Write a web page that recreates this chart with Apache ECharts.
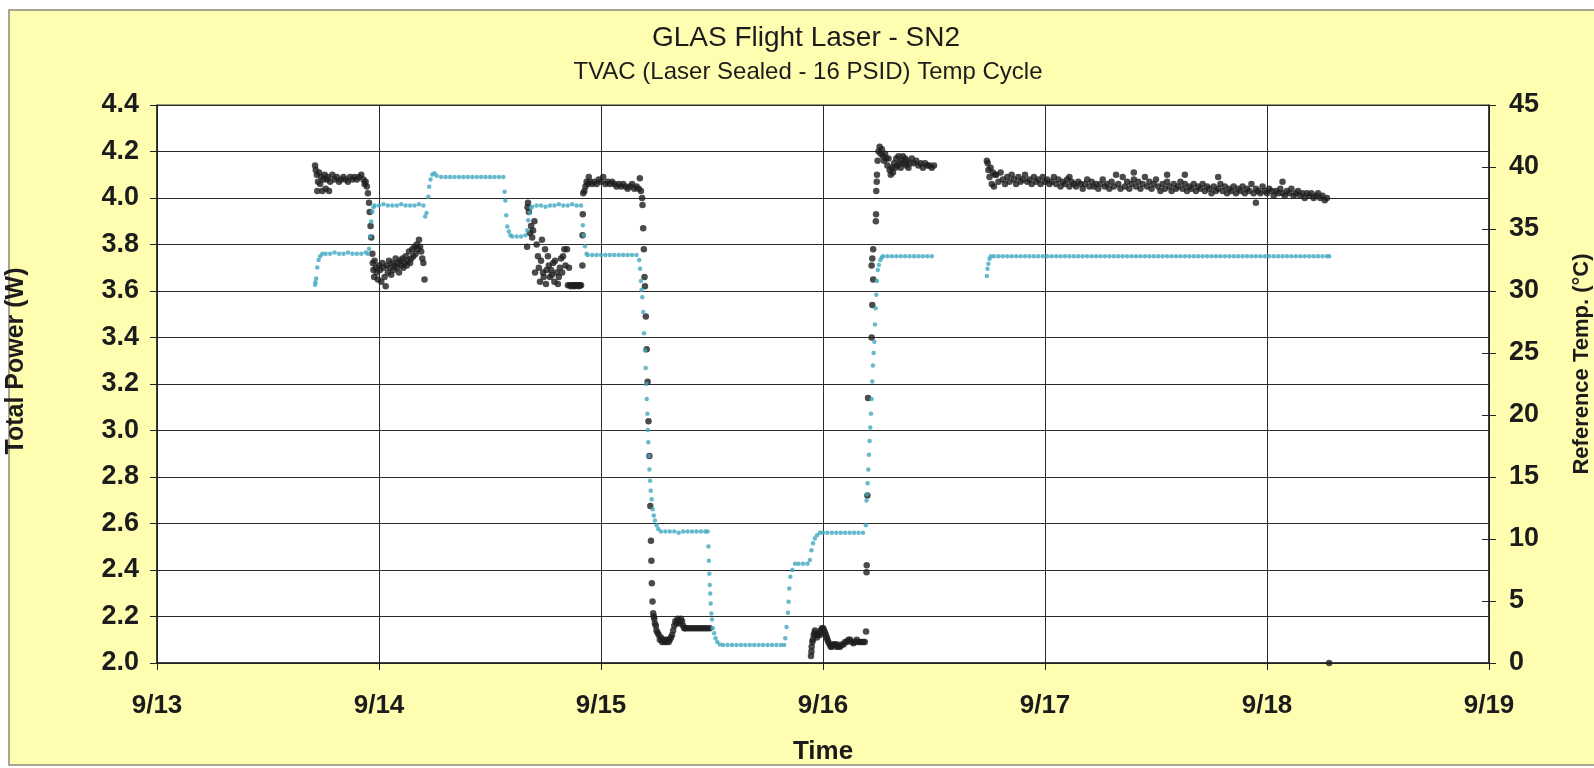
<!DOCTYPE html>
<html>
<head>
<meta charset="utf-8">
<script src="https://cdn.jsdelivr.net/npm/echarts@6/dist/echarts.min.js"></script>
<style>
html,body{margin:0;padding:0;background:#ffffff;}
#chart{width:1594px;height:768px;}
</style>
</head>
<body>
<div id="chart"></div>
<script>
// ---------- DATA ----------
const dateLabels = ['9/13','9/14','9/15','9/16','9/17','9/18','9/19'];
const powerTicks = ['2.0','2.2','2.4','2.6','2.8','3.0','3.2','3.4','3.6','3.8','4.0','4.2','4.4'];
const tempTicks = ['0','5','10','15','20','25','30','35','40','45'];

// Total Power (W) - [day of September, watts]
const power1 = [[13.712,4.14],[13.715,4.12],[13.72,4.10],[13.722,4.03],[13.725,4.07],[13.73,4.11],[13.735,4.06],[13.74,4.09],[13.745,4.03],[13.75,4.08],[13.755,4.10],[13.76,4.04],[13.765,4.08],[13.77,4.09],[13.775,4.03],[13.78,4.07],[13.79,4.10],[13.80,4.08],[13.81,4.09],[13.82,4.07],[13.83,4.08],[13.84,4.09],[13.85,4.08],[13.86,4.07],[13.87,4.09],[13.88,4.08],[13.89,4.09],[13.90,4.08],[13.91,4.09],[13.92,4.10],[13.93,4.08],[13.935,4.06],[13.94,4.07],[13.945,4.05],[13.95,4.02],[13.955,3.98],[13.958,3.94],[13.962,3.88],[13.965,3.83]];
const power2 = [[13.97,3.76],[13.972,3.72],[13.975,3.69],[13.978,3.66],[13.98,3.73],[13.985,3.70],[13.99,3.68],[13.995,3.65],[14.0,3.71],[14.005,3.69],[14.01,3.64],[14.015,3.72],[14.02,3.70],[14.025,3.66],[14.03,3.62],[14.035,3.71],[14.04,3.68],[14.045,3.73],[14.05,3.70],[14.055,3.67],[14.06,3.72],[14.065,3.69],[14.07,3.71],[14.075,3.74],[14.08,3.70],[14.085,3.72],[14.09,3.68],[14.095,3.73],[14.10,3.71],[14.105,3.74],[14.11,3.70],[14.115,3.72],[14.12,3.75],[14.125,3.71],[14.13,3.73],[14.135,3.77],[14.14,3.72],[14.145,3.74],[14.15,3.78],[14.155,3.75],[14.16,3.79],[14.165,3.76],[14.17,3.80],[14.175,3.78],[14.18,3.82],[14.185,3.79],[14.19,3.77],[14.195,3.74],[14.2,3.72],[14.205,3.65]];
const power3 = [[14.667,3.79],[14.669,3.96],[14.671,3.98],[14.675,3.94],[14.68,3.85],[14.685,3.88],[14.69,3.83],[14.694,3.86],[14.70,3.90],[14.703,3.68],[14.71,3.80],[14.716,3.75],[14.72,3.70],[14.725,3.64],[14.73,3.73],[14.734,3.82],[14.739,3.68],[14.742,3.66],[14.748,3.78],[14.752,3.63],[14.755,3.69],[14.761,3.75],[14.765,3.71],[14.77,3.66],[14.775,3.69],[14.779,3.67],[14.785,3.72],[14.79,3.64],[14.793,3.73],[14.80,3.68],[14.806,3.63],[14.81,3.66],[14.815,3.70],[14.82,3.74],[14.825,3.68],[14.829,3.75],[14.835,3.78],[14.84,3.71],[14.847,3.78],[14.851,3.625],[14.856,3.70],[14.86,3.625],[14.865,3.62],[14.87,3.625],[14.875,3.625],[14.88,3.62],[14.885,3.625],[14.89,3.625],[14.895,3.625],[14.90,3.62],[14.905,3.625],[14.91,3.625],[14.916,3.71],[14.917,3.84],[14.918,3.93]];
const power4 = [[14.92,4.02],[14.925,4.03],[14.93,4.05],[14.935,4.07],[14.94,4.06],[14.945,4.09],[14.95,4.07],[14.96,4.06],[14.97,4.07],[14.98,4.06],[14.99,4.08],[15.0,4.07],[15.01,4.09],[15.02,4.06],[15.03,4.07],[15.04,4.06],[15.05,4.07],[15.06,4.06],[15.07,4.05],[15.08,4.06],[15.09,4.05],[15.10,4.06],[15.11,4.05],[15.12,4.04],[15.13,4.05],[15.14,4.06],[15.15,4.04],[15.16,4.05],[15.17,4.04],[15.175,4.085],[15.18,4.03],
  [15.185,4.00],[15.187,3.97],[15.19,3.87],[15.193,3.78],[15.196,3.66],[15.198,3.62],[15.202,3.49],[15.206,3.35],[15.21,3.21],[15.214,3.04],[15.218,2.89],[15.222,2.675],[15.225,2.526],[15.227,2.44],[15.229,2.343],[15.232,2.265],[15.235,2.214]];
const power5 = [[15.238,2.20],[15.24,2.19],[15.243,2.17],[15.247,2.16],[15.25,2.14],[15.255,2.13],[15.26,2.12],[15.265,2.10],[15.27,2.11],[15.275,2.09],[15.28,2.10],[15.285,2.09],[15.29,2.10],[15.295,2.09],[15.30,2.10],[15.305,2.09],[15.31,2.10],[15.315,2.11],[15.32,2.12],[15.325,2.14],[15.33,2.16],[15.335,2.18],[15.34,2.17],[15.345,2.19],[15.35,2.18],[15.355,2.17],[15.36,2.19],[15.365,2.18],[15.37,2.16],[15.375,2.15],[15.38,2.15],[15.39,2.15],[15.40,2.15],[15.41,2.15],[15.42,2.15],[15.43,2.15],[15.44,2.15],[15.45,2.15],[15.46,2.15],[15.47,2.15],[15.48,2.15],[15.49,2.15]];
const power6 = [[15.946,2.03],[15.948,2.05],[15.949,2.07],[15.952,2.09],[15.954,2.10],[15.958,2.12],[15.962,2.13],[15.964,2.14],[15.968,2.12],[15.972,2.11],[15.978,2.12],[15.982,2.13],[15.986,2.12],[15.99,2.14],[15.995,2.15],[16.001,2.15],[16.005,2.14],[16.009,2.13],[16.013,2.12],[16.017,2.11],[16.02,2.10],[16.024,2.09],[16.03,2.08],[16.035,2.07],[16.039,2.07],[16.045,2.08],[16.05,2.08],[16.054,2.08],[16.06,2.07],[16.065,2.08],[16.07,2.07],[16.077,2.07],[16.085,2.08],[16.092,2.08],[16.1,2.09],[16.107,2.09],[16.115,2.10],[16.122,2.10],[16.13,2.09],[16.137,2.085],[16.145,2.09],[16.152,2.10],[16.16,2.09],[16.167,2.09],[16.175,2.09],[16.182,2.09],[16.188,2.09],[16.194,2.135],
  [16.196,2.39],[16.197,2.42],[16.200,2.72],[16.203,3.14],[16.219,3.40],[16.222,3.54],[16.226,3.65],[16.219,3.71],[16.222,3.74],[16.226,3.78],[16.238,3.90],[16.239,3.93],[16.24,4.03],[16.242,4.07],[16.243,4.10],[16.246,4.16]];
const power7 = [[16.25,4.20],[16.255,4.22],[16.26,4.19],[16.265,4.21],[16.27,4.18],[16.275,4.16],[16.28,4.19],[16.285,4.17],[16.29,4.14],[16.295,4.17],[16.30,4.12],[16.305,4.10],[16.31,4.13],[16.315,4.11],[16.32,4.15],[16.325,4.13],[16.33,4.17],[16.335,4.14],[16.34,4.18],[16.345,4.15],[16.35,4.13],[16.355,4.16],[16.36,4.18],[16.365,4.15],[16.37,4.17],[16.375,4.14],[16.38,4.16],[16.385,4.13],[16.39,4.15],[16.40,4.17],[16.41,4.15],[16.42,4.16],[16.43,4.14],[16.44,4.15],[16.45,4.13],[16.46,4.15],[16.47,4.14],[16.48,4.14],[16.49,4.13],[16.50,4.14]];
const power8 = [[16.738,4.16],[16.742,4.15],[16.745,4.12],[16.75,4.09],[16.755,4.13],[16.76,4.06],[16.765,4.11],[16.77,4.05],[16.775,4.10],[16.78,4.10],[16.79,4.07],[16.80,4.11],[16.81,4.08],[16.82,4.06],[16.83,4.09],[16.84,4.07],[16.85,4.10],[16.86,4.08],[16.87,4.06],[16.88,4.09],[16.89,4.07],[16.90,4.08],[16.91,4.10],[16.92,4.07],[16.93,4.08],[16.94,4.06],[16.95,4.09],[16.96,4.07],[16.97,4.08],[16.98,4.06],[16.99,4.09],
  [17.00,4.07],[17.01,4.08],[17.02,4.06],[17.03,4.07],[17.04,4.09],[17.05,4.06],[17.06,4.08],[17.07,4.05],[17.08,4.07],[17.09,4.06],[17.10,4.08],[17.11,4.05],[17.12,4.07],[17.13,4.06],[17.14,4.05],[17.15,4.07],[17.16,4.06],[17.17,4.04],[17.18,4.06],[17.19,4.08],[17.20,4.05],[17.21,4.07],[17.22,4.05],[17.23,4.06],[17.24,4.04],[17.25,4.06],[17.26,4.08],[17.27,4.05],[17.28,4.06],[17.29,4.04],[17.30,4.07],[17.31,4.05],[17.32,4.10],[17.33,4.06],[17.34,4.04],[17.35,4.09],[17.36,4.05],[17.37,4.07],[17.38,4.04],[17.39,4.06],[17.40,4.08],[17.41,4.05],[17.42,4.07],[17.43,4.04],[17.44,4.06],[17.45,4.09],[17.46,4.05],[17.47,4.07],[17.48,4.04],[17.49,4.06],
  [17.50,4.08],[17.51,4.05],[17.52,4.03],[17.53,4.06],[17.54,4.04],[17.55,4.07],[17.56,4.05],[17.57,4.03],[17.58,4.06],[17.59,4.04],[17.60,4.05],[17.61,4.07],[17.62,4.04],[17.63,4.06],[17.64,4.03],[17.65,4.05],[17.66,4.04],[17.67,4.06],[17.68,4.03],[17.69,4.05],[17.70,4.04],[17.71,4.06],[17.72,4.03],[17.73,4.05],[17.74,4.04],[17.75,4.02],[17.76,4.05],[17.77,4.03],[17.78,4.04],[17.79,4.06],[17.80,4.03],[17.81,4.05],[17.82,4.02],[17.83,4.04],[17.84,4.03],[17.85,4.05],[17.86,4.02],[17.87,4.04],[17.88,4.03],[17.89,4.05],[17.90,4.02],[17.91,4.04],[17.92,4.03],[17.93,4.06],[17.94,4.02],[17.95,4.04],[17.96,4.03],[17.97,4.02],[17.98,4.05],[17.99,4.03],
  [18.00,4.02],[18.01,4.04],[18.02,4.03],[18.03,4.01],[18.04,4.03],[18.05,4.02],[18.06,4.04],[18.07,4.02],[18.08,4.01],[18.09,4.03],[18.10,4.02],[18.11,4.04],[18.12,4.01],[18.13,4.02],[18.14,4.03],[18.15,4.01],[18.16,4.02],[18.17,4.00],[18.18,4.02],[18.19,4.01],[18.20,4.02],[18.21,4.00],[18.22,4.01],[18.23,4.02],[18.24,4.00],[18.25,4.01],[18.26,3.99],[18.27,4.00],
  [17.11,4.09],[17.40,4.11],[17.55,4.10],[17.63,4.10],[17.78,4.09],[17.95,3.98],[18.07,4.07],[18.28,2.00]];

// Reference Temp (°C) - [day of September, degrees C]
const temp1 = [[13.712,30.5],[13.714,30.7],[13.717,31.0],[13.722,31.9],[13.728,32.5],[13.735,32.8],[13.745,33.0],[13.76,33.0],[13.78,33.0],[13.80,33.1],[13.82,33.0],[13.84,33.0],[13.86,33.1],[13.88,33.0],[13.90,33.0],[13.92,33.0],[13.94,33.1],[13.95,33.0],
  [13.955,33.4],[13.96,34.4],[13.965,35.6],[13.97,36.4],[13.975,36.75],[13.98,36.9],[14.00,36.9],[14.02,37.0],[14.04,36.9],[14.06,36.9],[14.08,36.9],[14.10,37.0],[14.12,36.9],[14.14,36.9],[14.16,36.9],[14.18,37.0],[14.20,36.9],
  [14.208,36.0],[14.214,36.3],[14.222,37.6],[14.226,38.4],[14.232,39.0],[14.24,39.4],[14.25,39.5],[14.26,39.3],[14.28,39.2],[14.30,39.2],[14.32,39.2],[14.34,39.2],[14.36,39.2],[14.38,39.2],[14.40,39.2],[14.42,39.2],[14.44,39.2],[14.46,39.2],[14.48,39.2],[14.50,39.2],[14.52,39.2],[14.54,39.2],[14.56,39.2]];
const temp2 = [[14.566,38.0],[14.569,37.3],[14.573,36.1],[14.578,35.2],[14.585,34.8],[14.592,34.5],[14.60,34.4],[14.62,34.4],[14.64,34.4],[14.66,34.5],
  [14.668,34.9],[14.672,35.7],[14.678,36.3],[14.684,36.7],[14.69,36.8],[14.71,36.9],[14.73,36.9],[14.75,36.8],[14.77,36.9],[14.79,36.9],[14.81,37.0],[14.83,36.9],[14.85,36.9],[14.87,37.0],[14.89,36.9],[14.91,36.9],
  [14.918,35.3],[14.922,34.5],[14.928,33.6],[14.935,33.0],[14.94,32.9],[14.96,32.9],[14.98,32.9],[15.00,32.9],[15.02,32.9],[15.04,32.9],[15.06,32.9],[15.08,32.9],[15.10,32.9],[15.12,32.9],[15.14,32.9],[15.16,32.9]];
const temp3 = [[15.172,32.5],[15.176,31.8],[15.18,30.8],[15.183,30.1],[15.186,29.5],[15.19,28.3],[15.194,26.6],[15.198,25.2],[15.201,23.8],[15.204,22.5],[15.206,21.3],[15.209,20.1],[15.211,18.8],[15.213,17.8],[15.216,16.7],[15.218,15.6],[15.221,14.7],[15.224,13.9],[15.228,13.2],[15.233,12.4],[15.238,11.9],[15.243,11.5],[15.25,11.1],[15.258,10.8],
  [15.27,10.6],[15.29,10.6],[15.31,10.6],[15.33,10.6],[15.35,10.5],[15.37,10.6],[15.39,10.6],[15.41,10.6],[15.43,10.6],[15.45,10.6],[15.47,10.6],[15.48,10.6]];
const temp4 = [[15.484,9.4],[15.486,8.25],[15.488,7.2],[15.49,6.3],[15.492,5.6],[15.494,4.8],[15.497,4.0],[15.50,3.5],[15.504,2.8],[15.51,2.4],[15.516,2.0],[15.524,1.7],[15.535,1.5],
  [15.55,1.45],[15.57,1.45],[15.59,1.45],[15.61,1.45],[15.63,1.45],[15.65,1.45],[15.67,1.45],[15.69,1.45],[15.71,1.45],[15.73,1.45],[15.75,1.45],[15.77,1.45],[15.79,1.45],[15.81,1.45],[15.825,1.45],
  [15.83,2.0],[15.836,2.9],[15.842,4.06],[15.845,4.94],[15.848,6.0],[15.853,6.96],[15.862,7.5],[15.874,8.0],[15.89,8.0],[15.91,8.0],[15.93,8.0],
  [15.941,8.3],[15.948,9.1],[15.955,9.65],[15.963,10.05],[15.973,10.3],[15.986,10.5],[16.00,10.5],[16.02,10.5],[16.04,10.5],[16.06,10.5],[16.08,10.5],[16.10,10.5],[16.12,10.5],[16.14,10.5],[16.16,10.5],[16.18,10.5]];
const temp5 = [[16.193,11.1],[16.196,13.1],[16.198,13.6],[16.201,14.5],[16.204,15.6],[16.207,16.8],[16.21,17.9],[16.213,19.0],[16.216,20.1],[16.219,21.3],[16.222,22.7],[16.225,24.0],[16.228,25.0],[16.231,25.9],[16.234,27.3],[16.237,28.6],[16.24,29.7],[16.243,30.8],[16.247,31.7],[16.252,32.1],[16.258,32.5],[16.265,32.7],
  [16.27,32.8],[16.29,32.8],[16.31,32.8],[16.33,32.8],[16.35,32.8],[16.37,32.8],[16.39,32.8],[16.41,32.8],[16.43,32.8],[16.45,32.8],[16.47,32.8],[16.49,32.8]];
const temp6 = [[16.738,31.2],[16.741,31.8],[16.745,32.2],[16.75,32.6],[16.756,32.8],
  [16.77,32.8],[16.79,32.8],[16.81,32.8],[16.83,32.8],[16.85,32.8],[16.87,32.8],[16.89,32.8],[16.91,32.8],[16.93,32.8],[16.95,32.8],[16.97,32.8],[16.99,32.8],
  [17.01,32.8],[17.03,32.8],[17.05,32.8],[17.07,32.8],[17.09,32.8],[17.11,32.8],[17.13,32.8],[17.15,32.8],[17.17,32.8],[17.19,32.8],[17.21,32.8],[17.23,32.8],[17.25,32.8],[17.27,32.8],[17.29,32.8],[17.31,32.8],[17.33,32.8],[17.35,32.8],[17.37,32.8],[17.39,32.8],[17.41,32.8],[17.43,32.8],[17.45,32.8],[17.47,32.8],[17.49,32.8],
  [17.51,32.8],[17.53,32.8],[17.55,32.8],[17.57,32.8],[17.59,32.8],[17.61,32.8],[17.63,32.8],[17.65,32.8],[17.67,32.8],[17.69,32.8],[17.71,32.8],[17.73,32.8],[17.75,32.8],[17.77,32.8],[17.79,32.8],[17.81,32.8],[17.83,32.8],[17.85,32.8],[17.87,32.8],[17.89,32.8],[17.91,32.8],[17.93,32.8],[17.95,32.8],[17.97,32.8],[17.99,32.8],
  [18.01,32.8],[18.03,32.8],[18.05,32.8],[18.07,32.8],[18.09,32.8],[18.11,32.8],[18.13,32.8],[18.15,32.8],[18.17,32.8],[18.19,32.8],[18.21,32.8],[18.23,32.8],[18.25,32.8],[18.27,32.8],[18.28,32.8]];

// ---------- CHART ----------
const FONT = "'Liberation Sans', Arial, sans-serif";
const TXT = '#1c1c1c';
const powerData = [].concat(power1, power2, power3, power4, power5, power6, power7, power8);
const tempData = [].concat(temp1, temp2, temp3, temp4, temp5, temp6);

const chart = echarts.init(document.getElementById('chart'), null, {renderer: 'canvas'});
chart.setOption({
  animation: false,
  backgroundColor: '#ffffff',
  graphic: [{
    type: 'rect', z: -100, silent: true,
    shape: {x: 9, y: 10, width: 1600, height: 755},
    style: {fill: '#fffdb0', stroke: '#8a8a7a', lineWidth: 1.5}
  }],
  title: [{
    text: 'GLAS Flight Laser - SN2',
    left: 801, top: 19, textAlign: 'center',
    textStyle: {fontFamily: FONT, fontSize: 28, fontWeight: 'normal', color: TXT}
  }, {
    text: 'TVAC (Laser Sealed - 16 PSID) Temp Cycle',
    left: 803, top: 55, textAlign: 'center',
    textStyle: {fontFamily: FONT, fontSize: 24, fontWeight: 'normal', color: TXT}
  }],
  grid: {
    left: 157, right: 105, top: 105, bottom: 105,
    containLabel: false, outerBoundsMode: 'none',
    show: true, backgroundColor: '#ffffff', borderColor: '#333', borderWidth: 1
  },
  xAxis: {
    type: 'value', min: 13, max: 19, interval: 1,
    name: 'Time', nameLocation: 'middle', nameGap: 76,
    nameTextStyle: {fontFamily: FONT, fontSize: 26, fontWeight: 'bold', color: TXT},
    axisLine: {show: true, onZero: false, lineStyle: {color: '#222', width: 1.5}},
    axisTick: {show: true, inside: false, length: 7, lineStyle: {color: '#222', width: 1}},
    axisLabel: {
      margin: 30, fontFamily: FONT, fontSize: 26, fontWeight: 'bold', color: TXT,
      formatter: v => dateLabels[Math.round(v - 13)]
    },
    splitLine: {show: true, lineStyle: {color: '#2a2a2a', width: 1}}
  },
  yAxis: [{
    type: 'value', min: 2.0, max: 4.4, interval: 0.2, position: 'left',
    name: 'Total Power (W)', nameLocation: 'middle', nameGap: 128,
    nameTextStyle: {fontFamily: FONT, fontSize: 25, fontWeight: 'bold', color: TXT, padding: [0, 0, 0, 46]},
    axisLine: {show: true, onZero: false, lineStyle: {color: '#222', width: 1.5}},
    axisTick: {show: true, inside: false, length: 7, lineStyle: {color: '#222', width: 1}},
    axisLabel: {
      margin: 18, fontFamily: FONT, fontSize: 27, fontWeight: 'bold', color: TXT,
      formatter: v => powerTicks[Math.round((v - 2.0) / 0.2)]
    },
    splitLine: {show: true, lineStyle: {color: '#2a2a2a', width: 1.2}}
  }, {
    type: 'value', min: 0, max: 45, interval: 5, position: 'right',
    name: 'Reference Temp. (°C)', nameLocation: 'middle', nameGap: 82,
    nameTextStyle: {fontFamily: FONT, fontSize: 22, fontWeight: 'bold', color: TXT, padding: [0, 0, 0, 40]},
    axisLine: {show: true, onZero: false, lineStyle: {color: '#222', width: 1.5}},
    axisTick: {show: true, inside: false, length: 7, lineStyle: {color: '#222', width: 1}},
    axisLabel: {
      margin: 20, fontFamily: FONT, fontSize: 27, fontWeight: 'bold', color: TXT,
      formatter: v => tempTicks[Math.round(v / 5)]
    },
    splitLine: {show: false}
  }, {
    type: 'value', min: 0, max: 45, interval: 5, position: 'right',
    axisLine: {show: false},
    axisTick: {show: true, inside: true, length: 7, lineStyle: {color: '#222', width: 1}},
    axisLabel: {show: false},
    splitLine: {show: false}
  }],
  series: [{
    name: 'Total Power', type: 'scatter', yAxisIndex: 0,
    symbol: 'circle', symbolSize: 6.5,
    itemStyle: {color: '#1e1e1e'},
    data: powerData
  }, {
    name: 'Reference Temp', type: 'scatter', yAxisIndex: 1,
    symbol: 'circle', symbolSize: 4.5,
    itemStyle: {color: '#41a9c2'},
    data: tempData
  }]
});
</script>
</body>
</html>
